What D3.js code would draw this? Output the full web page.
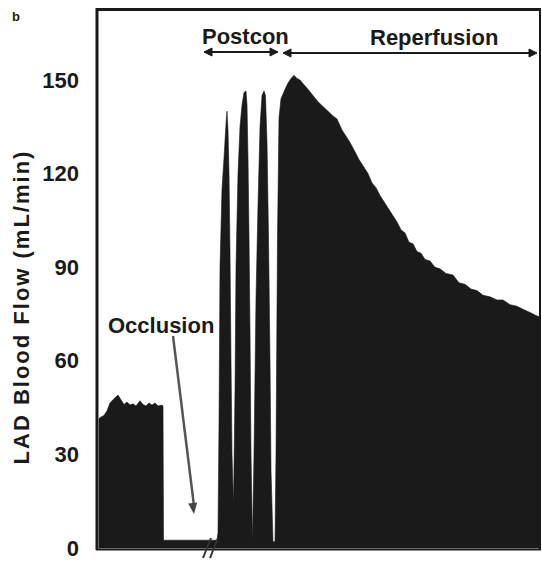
<!DOCTYPE html>
<html>
<head>
<meta charset="utf-8">
<script src="https://cdn.jsdelivr.net/npm/d3@7/dist/d3.min.js"></script>
<style>
  html, body { margin: 0; padding: 0; background: #fff; }
  svg { display: block; }
  text { font-family: "Liberation Sans", Arial, Helvetica, sans-serif; font-weight: bold; fill: #1a1a1a; }
</style>
</head>
<body>
<svg id="chart" width="542" height="563"></svg>
<script>
// ---- Data (time in arbitrary units, LAD flow in mL/min) ----
const yTicks = [0, 30, 60, 90, 120, 150];
const yLabel = "LAD Blood Flow (mL/min)";
const panelLabel = "b";
const phaseLabels = ["Occlusion", "Postcon", "Reperfusion"];

const baselineTime = [0, 0, 2, 5, 8, 11, 14, 17, 19, 22, 25, 28, 31, 34, 37, 41, 44, 47, 50, 53, 56, 59, 63, 64];
const baselineFlow = [0, 41.5, 42, 42.5, 44, 46.5, 47.5, 48.5, 49, 47.5, 46, 46.8, 45.8, 46.2, 45.5, 47.2, 46, 45.5, 46.5, 45.8, 46.5, 45.5, 45.8, 45.5];

const occlusionTime = [64.5, 80, 100, 118];
const occlusionFlow = [2.5, 2.5, 2.5, 2.5];

const postconTime = [119, 120, 121, 123, 125, 127, 128, 129, 130, 131, 132, 133, 134.5,
                     136, 137, 139, 141, 143, 145, 147, 148, 149, 150, 151, 152, 153.5,
                     155, 157, 159, 161, 163, 165, 166.5, 168, 169.5, 171, 172, 174, 176];
const postconFlow = [5, 40, 90, 115, 125, 136, 140, 134, 120, 95, 60, 30, 14,
                     50, 90, 120, 135, 142, 146, 146.5, 142, 125, 100, 70, 30, 2,
                     30, 80, 110, 135, 145, 146.5, 145, 130, 100, 60, 25, 2, 2];

const reperfusionTime = [177, 178.5, 180, 182, 184, 186, 189, 192, 195, 198, 201, 205, 209, 214,
                         219, 224, 229, 234, 238, 243, 247, 251, 256, 260, 264, 269, 273, 277,
                         281, 286, 290, 294, 298, 302, 306, 310, 314, 318, 322, 326, 331, 336,
                         341, 347, 354, 360, 366, 372, 378, 384, 391, 398, 404, 411, 418, 424,
                         431, 437, 441, 441];
const reperfusionFlow = [30, 100, 138, 144, 145.5, 147, 149, 150.5, 151.5, 150.5, 150, 148.5, 147, 145,
                         143, 141.5, 140, 138.5, 137.5, 134, 132, 130, 127, 124.5, 122.5, 120, 117, 115.5,
                         113, 110.5, 108.5, 106.5, 104.5, 102, 101, 98, 97.5, 95, 94.5, 92.5, 92, 90,
                         89.5, 88, 87.5, 85, 84.5, 83, 82.5, 81, 80.5, 79.5, 79.5, 78, 77.5, 76.5,
                         75.5, 74.5, 74, 0];

const time = [].concat(baselineTime, occlusionTime, postconTime, reperfusionTime);
const flow = [].concat(baselineFlow, occlusionFlow, postconFlow, reperfusionFlow);
const trace = time.map((t, i) => ({ t: t, v: flow[i] }));

// ---- Layout ----
const svg = d3.select("#chart");
const x = d3.scaleLinear().domain([0, 441]).range([99, 540]);
const y = d3.scaleLinear().domain([0, 150]).range([548, 80]);
const ink = "#1a1a1a";

// filled flow trace
const area = d3.area()
  .x(d => x(d.t))
  .y0(y(0))
  .y1(d => y(d.v))
  .curve(d3.curveLinear);
svg.append("path").datum(trace)
  .attr("d", area)
  .attr("fill", ink)
  .attr("stroke", ink)
  .attr("stroke-width", 0.6);

// frame
const frame = svg.append("g").attr("stroke", ink).attr("fill", "none");
frame.append("line").attr("x1", 97).attr("x2", 97).attr("y1", 8).attr("y2", 550).attr("stroke-width", 3);
frame.append("line").attr("x1", 96).attr("x2", 541).attr("y1", 9.5).attr("y2", 9.5).attr("stroke-width", 3);
frame.append("line").attr("x1", 540).attr("x2", 540).attr("y1", 9).attr("y2", 550).attr("stroke-width", 2);
frame.append("line").attr("x1", 96).attr("x2", 541).attr("y1", 549.5).attr("y2", 549.5).attr("stroke-width", 2);

// axis break mark
const brk = svg.append("g").attr("stroke", "#333").attr("stroke-width", 2);
brk.append("line").attr("x1", 203).attr("y1", 558).attr("x2", 211).attr("y2", 538);
brk.append("line").attr("x1", 210).attr("y1", 558).attr("x2", 218).attr("y2", 538);

// y axis (labels only, via d3 axis)
const yAxis = d3.axisLeft(y).tickValues(yTicks).tickSize(0).tickPadding(0);
const yg = svg.append("g").attr("transform", "translate(79,0)").call(yAxis);
yg.select(".domain").remove();
yg.selectAll("text")
  .attr("font-size", 22)
  .attr("font-family", "Liberation Sans, Arial, sans-serif")
  .attr("font-weight", "bold")
  .attr("fill", ink);

// y axis title
svg.append("text")
  .attr("transform", "translate(29,307) rotate(-90)")
  .attr("text-anchor", "middle")
  .attr("font-size", 22)
  .attr("letter-spacing", 2)
  .text(yLabel);

// panel label
svg.append("text").attr("x", 12).attr("y", 21).attr("font-size", 13).text(panelLabel);

// arrowheads
function head(g, xt, yt, dir, color) {
  // dir: -1 pointing left, +1 pointing right, "down" handled separately
  const L = 8, H = 4;
  g.append("path")
    .attr("d", `M${xt},${yt} L${xt - dir * L},${yt - H} L${xt - dir * L},${yt + H} Z`)
    .attr("fill", color).attr("stroke", color).attr("stroke-width", 1);
}
const arr = svg.append("g");
// Postcon double arrow
arr.append("line").attr("x1", 205).attr("x2", 277).attr("y1", 52).attr("y2", 52).attr("stroke", ink).attr("stroke-width", 2);
head(arr, 204, 52, -1, ink);
head(arr, 278, 52, 1, ink);
// Reperfusion double arrow
arr.append("line").attr("x1", 284).attr("x2", 535).attr("y1", 53).attr("y2", 53).attr("stroke", ink).attr("stroke-width", 2);
head(arr, 283, 53, -1, ink);
head(arr, 537, 53, 1, ink);

svg.append("text").attr("x", 202).attr("y", 44).attr("font-size", 22).text(phaseLabels[1]);
svg.append("text").attr("x", 370).attr("y", 45).attr("font-size", 22).text(phaseLabels[2]);
svg.append("text").attr("x", 108).attr("y", 333).attr("font-size", 22).text(phaseLabels[0]);

// Occlusion pointer
const ox1 = 173, oy1 = 336, ox2 = 194, oy2 = 514;
svg.append("line").attr("x1", ox1).attr("y1", oy1).attr("x2", ox2).attr("y2", oy2 - 8)
  .attr("stroke", "#555").attr("stroke-width", 2.5);
const ang = Math.atan2(oy2 - oy1, ox2 - ox1);
const hl = 11, hw = 4.5;
const bx = ox2 - hl * Math.cos(ang), by = oy2 - hl * Math.sin(ang);
svg.append("path")
  .attr("d", `M${ox2},${oy2} L${bx + hw * Math.sin(ang)},${by - hw * Math.cos(ang)} L${bx - hw * Math.sin(ang)},${by + hw * Math.cos(ang)} Z`)
  .attr("fill", "#444");
</script>
</body>
</html>
